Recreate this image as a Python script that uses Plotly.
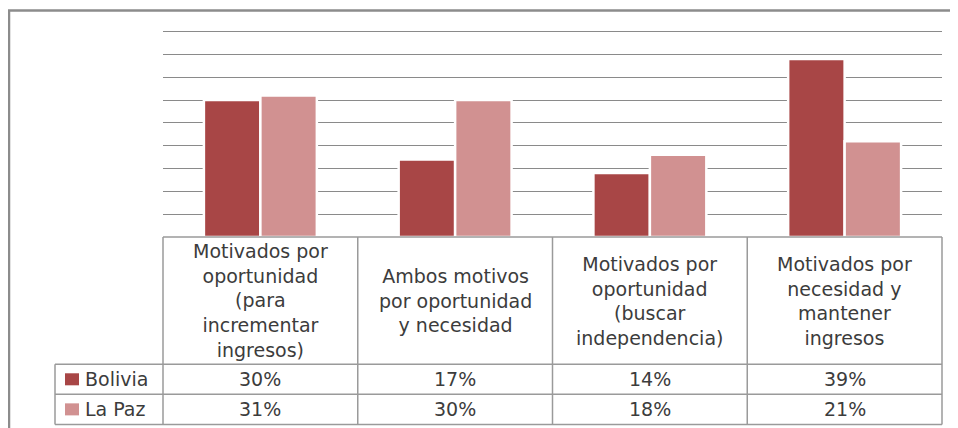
import plotly.graph_objects as go

# data
categorias = [
    "Motivados por<br>oportunidad<br>(para<br>incrementar<br>ingresos)",
    "Ambos motivos<br>por oportunidad<br>y necesidad",
    "Motivados por<br>oportunidad<br>(buscar<br>independencia)",
    "Motivados por<br>necesidad y<br>mantener<br>ingresos",
]
series = ["Bolivia", "La Paz"]
bolivia = [30, 17, 14, 39]
la_paz = [31, 30, 18, 21]
colores = ["#a84646", "#d19191"]

# page geometry in screen pixels; the page body has an 8px margin
OFF = 8
W, H = 958, 428 - OFF
YMAX = 46
L, R, B = 163, 942, 237
T = B - YMAX * (205 / 45)


def px(x):
    return (x - L) / (R - L)


def py(y):
    return (B - y) / (B - T)


FONT = dict(family="DejaVu Sans", size=19, color="#3c3c3c")
LINE = "#9a9a9a"

fig = go.Figure()
for nombre, vals, col in zip(series, [bolivia, la_paz], colores):
    fig.add_trace(go.Bar(x=categorias, y=vals, name=nombre,
                         marker=dict(color=col, line=dict(color="white", width=2.5)),
                         hoverinfo="y"))

shapes = []
# outer frame
shapes.append(dict(type="path", xref="paper", yref="paper",
                   path=f"M {px(9)},{py(440)} L {px(9)},{py(11)} L {px(975)},{py(11)}",
                   line=dict(color="#8c8c8c", width=2.5)))
# table horizontal lines
shapes.append(dict(type="line", xref="paper", yref="paper", x0=px(L), x1=px(R),
                   y0=py(B), y1=py(B), line=dict(color=LINE, width=1.5)))
for yy in [364, 394, 424]:
    shapes.append(dict(type="line", xref="paper", yref="paper", x0=px(55), x1=px(R),
                       y0=py(yy), y1=py(yy), line=dict(color=LINE, width=1.5)))
# table vertical lines
for i in range(5):
    xx = L + i * (R - L) / 4
    shapes.append(dict(type="line", xref="paper", yref="paper", x0=px(xx), x1=px(xx),
                       y0=py(B), y1=py(424), line=dict(color=LINE, width=1.5)))
shapes.append(dict(type="line", xref="paper", yref="paper", x0=px(55), x1=px(55),
                   y0=py(364), y1=py(424), line=dict(color=LINE, width=1.5)))

annotations = []
# category labels in the header row
for c in categorias:
    annotations.append(dict(x=c, xref="x", y=py((B + 364) / 2), yref="paper",
                            text=c, showarrow=False, font=FONT,
                            xanchor="center", yanchor="middle"))
# data rows with legend keys
filas_y = [379, 409]
for nombre, vals, col, fy in zip(series, [bolivia, la_paz], colores, filas_y):
    shapes.append(dict(type="rect", xref="paper", yref="paper",
                       x0=px(65), x1=px(79), y0=py(fy - 6), y1=py(fy + 6),
                       fillcolor=col, line=dict(width=0)))
    annotations.append(dict(x=px(83), xref="paper", y=py(fy), yref="paper",
                            text=nombre, showarrow=False, font=FONT,
                            xanchor="left", yanchor="middle"))
    for c, v in zip(categorias, vals):
        annotations.append(dict(x=c, xref="x", y=py(fy), yref="paper",
                                text=f"{v}%", showarrow=False, font=FONT,
                                xanchor="center", yanchor="middle"))

fig.update_layout(
    width=W, height=H,
    margin=dict(l=L - OFF, r=W - (R - OFF), t=T - OFF, b=H - (B - OFF), pad=0),
    paper_bgcolor="white", plot_bgcolor="white",
    barmode="group", bargap=0.42, bargroupgap=0.0,
    showlegend=False,
    xaxis=dict(showticklabels=False, showgrid=False, zeroline=False, showline=False),
    yaxis=dict(range=[0, YMAX], dtick=5, showticklabels=False, showgrid=True,
               gridcolor="#8a8a8a", gridwidth=1, zeroline=False, showline=False),
    shapes=shapes, annotations=annotations,
)

fig.write_html("out.html")
